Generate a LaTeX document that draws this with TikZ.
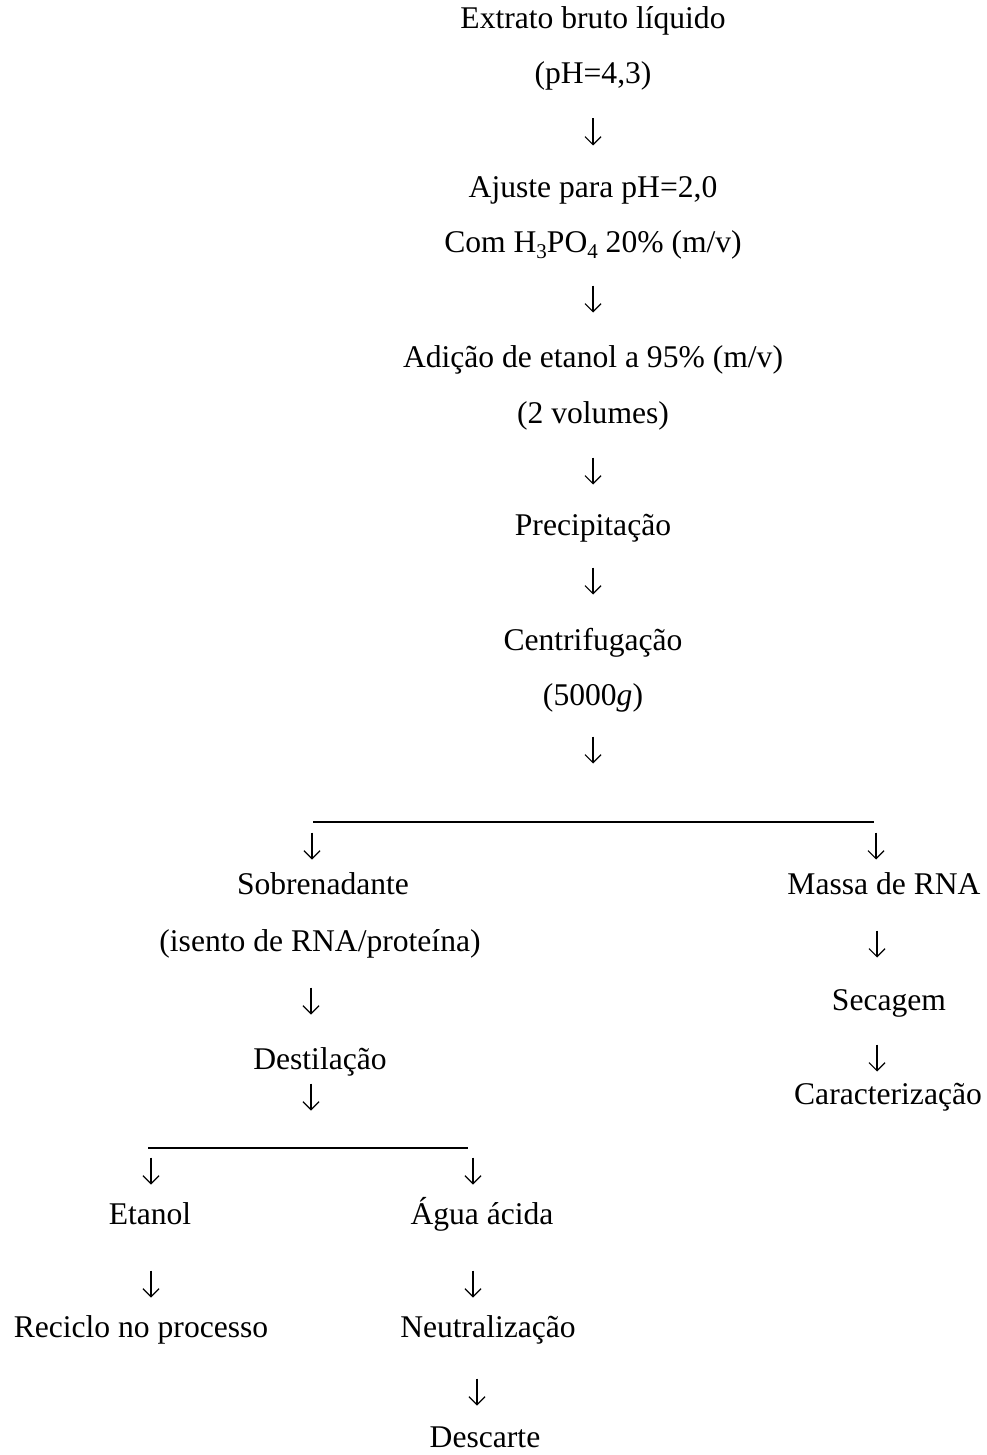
\documentclass[tikz,border=0pt]{standalone}
\usepackage{fontspec}
\usetikzlibrary{arrows.meta}
\setmainfont{Liberation Serif}
\newcommand{\sbs}[1]{\raisebox{-0.16em}{\fontsize{21}{21}\selectfont #1}}
\begin{document}
\begin{tikzpicture}[x=1pt,y=-1pt,
  every node/.style={inner sep=0pt,outer sep=0pt,font=\fontsize{31.6}{36}\selectfont},
  lbl/.style={anchor=base},
  bar/.style={line width=1.4pt},
  pics/darrow/.style={code={
    \draw[line width=1.2pt,-{Straight Barb[length=8pt,width=16pt,line width=1.2pt]}]
      (0,-13.5) -- (0,13.5);}}]
\useasboundingbox (0,0) rectangle (986,1455);

% main column
\node[lbl] (extrato) at (593,29) {Extrato bruto líquido};
\node[lbl] (ph43) at (593,84) {(pH=4,3)};
\pic (a1) at (593,132) {darrow};
\node[lbl] (ajuste) at (593,198) {Ajuste para pH=2,0};
\node[lbl] (acido) at (593,253) {Com H\sbs{3}PO\sbs{4} 20\% (m/v)};
\pic (a2) at (593,299) {darrow};
\node[lbl] (etanolad) at (593,367) {Adição de etanol a 95\% (m/v)};
\node[lbl] (vol) at (593,423) {(2 volumes)};
\pic (a3) at (593,471) {darrow};
\node[lbl] (precip) at (593,535) {Precipitação};
\pic (a4) at (593,581) {darrow};
\node[lbl] (centrif) at (593,650) {Centrifugação};
\node[lbl] (forca) at (593,705) {(5000\textit{g})};
\pic (a5) at (593,750) {darrow};

% first split
\coordinate (s1l) at (313,822);
\coordinate (s1r) at (874,822);
\draw[bar] (s1l) -- (s1r);
\pic (a6) at (312,846) {darrow};
\pic (a7) at (876,846) {darrow};

% left branch
\node[lbl] (sobren) at (323,894) {Sobrenadante};
\node[lbl] (isento) at (320,951) {(isento de RNA/proteína)};
\pic (a8) at (311,1001) {darrow};
\node[lbl] (destil) at (320,1069) {Destilação};
\pic (a9) at (311,1097) {darrow};

% right branch
\node[lbl] (massa) at (884,894) {Massa de RNA};
\pic (a10) at (877,944) {darrow};
\node[lbl] (secagem) at (889,1010) {Secagem};
\pic (a11) at (877,1058) {darrow};
\node[lbl] (caract) at (888,1104) {Caracterização};

% second split
\coordinate (s2l) at (148,1148);
\coordinate (s2r) at (468,1148);
\draw[bar] (s2l) -- (s2r);
\pic (a12) at (151,1171) {darrow};
\pic (a13) at (473,1171) {darrow};

\node[lbl] (etanol) at (150,1224) {Etanol};
\node[lbl] (agua) at (482,1224) {Água ácida};
\pic (a14) at (151,1284) {darrow};
\pic (a15) at (473,1284) {darrow};
\node[lbl] (reciclo) at (141,1337) {Reciclo no processo};
\node[lbl] (neutral) at (488,1337) {Neutralização};
\pic (a16) at (477,1392) {darrow};
\node[lbl] (descarte) at (485,1447) {Descarte};
\end{tikzpicture}
\end{document}
